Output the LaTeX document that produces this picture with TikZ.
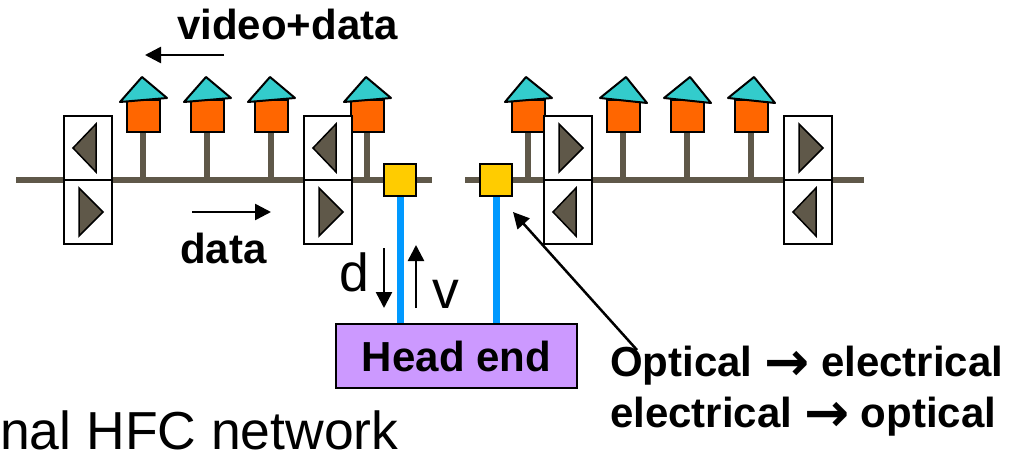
\documentclass[tikz,border=0pt]{standalone}
\usepackage{fontspec}
\setmainfont{Liberation Sans}
\newfontfamily\arrowfont{DejaVu Sans}
\usetikzlibrary{arrows.meta}
\definecolor{busgray}{HTML}{5F5849}
\definecolor{roofteal}{HTML}{33CCCC}
\definecolor{bodyorange}{HTML}{FF6600}
\definecolor{nodeyellow}{HTML}{FFCC00}
\definecolor{fiberblue}{HTML}{0099FF}
\definecolor{headpurple}{HTML}{CC99FF}
\tikzstyle{bus} = [line width=6pt, draw=busgray]
\tikzstyle{fiber} = [line width=7pt, draw=fiberblue]
\tikzstyle{ampbox} = [rectangle, minimum width=48pt, minimum height=64pt, line width=2pt, draw=black, fill=white]
\tikzstyle{amptri} = [line width=1.5pt, draw=black, fill=busgray, line join=miter]
\tikzstyle{house} = [rectangle, minimum width=33pt, minimum height=32pt, line width=2pt, draw=black, fill=bodyorange]
\tikzstyle{roof} = [line width=2pt, draw=black, fill=roofteal, line join=round]
\tikzstyle{converter} = [rectangle, minimum width=32pt, minimum height=32pt, line width=2pt, draw=black, fill=nodeyellow]
\tikzstyle{headend} = [rectangle, minimum width=241pt, minimum height=64pt, line width=2pt, draw=black, fill=headpurple, font=\fontsize{42}{46}\selectfont\bfseries]
\tikzstyle{arrow} = [line width=2.5pt, -{Stealth[length=16pt,width=16pt,inset=0pt]}]
\tikzstyle{boldlabel} = [anchor=base west, inner sep=0pt, font=\fontsize{42}{46}\selectfont\bfseries]
\tikzstyle{plainlabel} = [anchor=base west, inner sep=0pt, font=\fontsize{53.5}{58}\selectfont]
\newcommand{\convarrow}{\raisebox{-4pt}{\fontsize{54}{46}\arrowfont\bfseries\selectfont →}}

\begin{document}
\begin{tikzpicture}[x=1pt, y=-1pt]
\useasboundingbox (0,0) rectangle (1009,452);

\coordinate (busleft) at (16,180);
\coordinate (busleftend) at (432,180);
\coordinate (busright) at (465,180);
\coordinate (busrightend) at (864,180);
\draw [bus] (busleft) -- (busleftend);
\draw [bus] (busright) -- (busrightend);

% houses on the left run
\foreach \x/\n in {143/a, 207/b, 271/c, 367/d} {
  \node (house\n) [house] at (\x,116) {};
  \draw [bus] (house\n.south) -- (house\n.south |- busleft);
  \draw [roof] (\x-23,102) -- (\x-1,77) -- (\x+24,98) -- cycle;
}
% houses on the right run
\node (housee) [house] at (528,116) {};
\draw [bus] (housee.south) -- (housee.south |- busright);
\draw [roof] (505,102) -- (526,77) -- (552,98) -- cycle;
\foreach \x/\n in {623/f, 687/g, 751/h} {
  \node (house\n) [house] at (\x,116) {};
  \draw [bus] (house\n.south) -- (house\n.south |- busright);
  \draw [roof] (\x-23,98) -- (\x+3,77) -- (\x+24,103) -- cycle;
}

% amplifiers
\foreach \x/\n in {88/a, 328/b} {
  \node (ampup\n) [ampbox] at (\x,148) {};
  \node (ampdown\n) [ampbox] at (\x,212) {};
  \draw [amptri] (\x+8,124) -- (\x-15,148) -- (\x+8,172) -- cycle;
  \draw [amptri] (\x-9,188) -- (\x+15,212) -- (\x-9,236) -- cycle;
}
\foreach \x/\n in {568/c, 808/d} {
  \node (ampup\n) [ampbox] at (\x,148) {};
  \node (ampdown\n) [ampbox] at (\x,212) {};
  \draw [amptri] (\x-9,124) -- (\x+15,148) -- (\x-9,172) -- cycle;
  \draw [amptri] (\x+8,188) -- (\x-15,212) -- (\x+8,236) -- cycle;
}

\node (head) [headend] at (456.5,356) {Head end};
\node (convleft) [converter] at (400,180) {};
\node (convright) [converter] at (496,180) {};
\draw [fiber] (convleft.south) -- (convleft.south |- head.north);
\draw [fiber] (convright.south) -- (convright.south |- head.north);

\node (video) [boldlabel] at (177,40) {video+data};
\node (data) [boldlabel] at (180,263) {data};
\node (d) [plainlabel] at (339,291) {d};
\node (v) [plainlabel] at (432,308) {v};
\node (caption) [plainlabel] at (0,449) {nal HFC network};

\coordinate (videostart) at (224,55);
\coordinate (videoend) at (145,55);
\coordinate (datastart) at (192,212);
\coordinate (dataend) at (271,212);
\coordinate (dstart) at (384,248);
\coordinate (dend) at (384,308);
\coordinate (vstart) at (416,308);
\coordinate (vend) at (416,245);
\coordinate (calloutstart) at (637,350);
\coordinate (callouttip) at (513,212);
\draw [arrow] (videostart) -- (videoend);
\draw [arrow] (datastart) -- (dataend);
\draw [arrow] (dstart) -- (dend);
\draw [arrow] (vstart) -- (vend);
\draw [arrow] (calloutstart) -- (callouttip);

\node (optelec) [boldlabel] at (610,376) {Optical \convarrow{} electrical};
\node (elecopt) [boldlabel] at (610,427) {electrical \convarrow{} optical};
\end{tikzpicture}
\end{document}
